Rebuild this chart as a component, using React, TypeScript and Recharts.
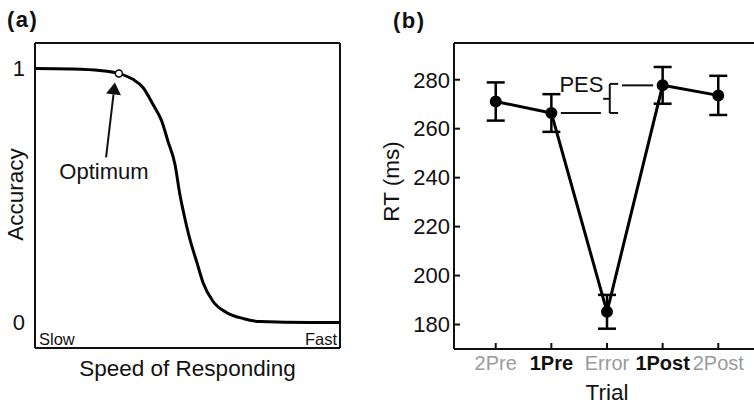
import {
  LineChart,
  ComposedChart,
  Line,
  XAxis,
  YAxis,
  ErrorBar,
  ReferenceLine,
  ReferenceDot,
  Label
} from 'recharts'

const FONT = '"Liberation Sans", Arial, Helvetica, sans-serif'
const INK = '#111'
const GREY = '#9a9a9a'

// (a) speed-accuracy curve (speed 0 = slow, 100 = fast)
const speed = [0, 11.5, 21.3, 27.5, 32.1, 35.4, 38.7, 41.6, 43.6, 45.9, 47.5, 48.5, 50.8, 53.1, 55.1, 58.4, 62.9, 68.2, 73.8, 90.2, 100]
const accuracy = [1, 0.998, 0.992, 0.98, 0.957, 0.925, 0.858, 0.791, 0.713, 0.622, 0.504, 0.445, 0.327, 0.236, 0.157, 0.083, 0.039, 0.016, 0.004, 0, 0]
const optimumIdx = 3
const speedEnds = ['Slow', 'Fast']
const accTicks = [0, 1]

// (b) RT around an error trial
const trials = ['2Pre', '1Pre', 'Error', '1Post', '2Post']
const emphasised = [false, true, false, true, false]
const rtMeans = [271.1, 266.4, 185.2, 277.7, 273.6]
const rtErrors = [7.8, 7.7, 6.9, 7.5, 8.0]
const rtTicks = [180, 200, 220, 240, 260, 280]

const curveData = speed.map((s, i) => ({ speed: s, acc: accuracy[i] }))
const rtData = trials.map((_, i) => ({ idx: i, rt: rtMeans[i], se: rtErrors[i] }))
const trialIdx = trials.map((_, i) => i)

const axisLine = { stroke: INK, strokeWidth: 2 }
const tickLine = { stroke: INK, strokeWidth: 2 }

function SpeedTick({ x, y, payload }: any) {
  const first = payload.value === 0
  return (
    <text
      x={first ? x + 4 : x - 3}
      y={y - 3}
      textAnchor={first ? 'start' : 'end'}
      fontSize={16.5}
      fontFamily={FONT}
      fill={INK}
    >
      {first ? speedEnds[0] : speedEnds[1]}
    </text>
  )
}

function TrialTick({ x, y, payload }: any) {
  const bold = emphasised[payload.value]
  return (
    <text
      x={x}
      y={y}
      dy="0.71em"
      textAnchor="middle"
      fontSize={20}
      fontFamily={FONT}
      fontWeight={bold ? 'bold' : 'normal'}
      fill={bold ? INK : GREY}
    >
      {trials[payload.value]}
    </text>
  )
}

function Arrow({ x1, y1, x2, y2 }: any) {
  const len = Math.hypot(x2 - x1, y2 - y1)
  const ux = (x2 - x1) / len
  const uy = (y2 - y1) / len
  const head = 12
  const half = 7.5
  const bx = x2 - ux * head
  const by = y2 - uy * head
  return (
    <g>
      <line x1={x1} y1={y1} x2={bx} y2={by} stroke={INK} strokeWidth={2} />
      <polygon
        points={`${x2},${y2} ${bx - uy * half},${by + ux * half} ${bx + uy * half},${by - ux * half}`}
        fill={INK}
      />
    </g>
  )
}

function rotatedTitle(text: string, dx: number, dy: number) {
  return ({ viewBox }: any) => {
    const cx = viewBox.x + dx
    const cy = viewBox.y + viewBox.height / 2 + dy
    return (
      <text
        x={cx}
        y={cy}
        transform={`rotate(-90 ${cx} ${cy})`}
        textAnchor="middle"
        dominantBaseline="central"
        fontSize={22.5}
        fontFamily={FONT}
        fill={INK}
      >
        {text}
      </text>
    )
  }
}

const textStyle = { fontSize: 22, fill: INK, fontFamily: FONT }
const titleStyle = { fontSize: 22.5, fill: INK, fontFamily: FONT }

export default function App() {
  return (
    <div
      style={{
        position: 'absolute',
        left: 0,
        top: 0,
        width: 754,
        height: 405,
        overflow: 'hidden',
        background: '#fff',
        fontFamily: FONT
      }}
    >
      <div style={{ position: 'absolute', left: 7, top: 7, fontSize: 22, fontWeight: 'bold', lineHeight: '26px', letterSpacing: 1.5, color: INK }}>
        (a)
      </div>
      <div style={{ position: 'absolute', left: 393, top: 8, fontSize: 22, fontWeight: 'bold', lineHeight: '26px', letterSpacing: 1.5, color: INK }}>
        (b)
      </div>

      <div style={{ position: 'absolute', left: 0, top: 0 }}>
        <LineChart width={360} height={405} data={curveData} margin={{ top: 13, right: 0, bottom: 0, left: 0 }}>
          <XAxis xAxisId="top" orientation="top" type="number" dataKey="speed" domain={[0, 100]} height={30} tick={false} tickLine={false} axisLine={axisLine} />
          <XAxis
            type="number"
            dataKey="speed"
            domain={[0, 100]}
            ticks={[0, 100]}
            interval={0}
            height={57}
            tickLine={false}
            tickSize={0}
            tickMargin={0}
            axisLine={axisLine}
            tick={<SpeedTick />}
          >
            <Label value="Speed of Responding" position="insideBottom" offset={29} {...titleStyle} />
          </XAxis>
          <YAxis domain={[-0.1, 1.1]} ticks={accTicks} width={35} tickLine={false} tickSize={0} tickMargin={10} axisLine={axisLine} tick={textStyle}>
            <Label content={rotatedTitle('Accuracy', 15, -1)} />
          </YAxis>
          <YAxis yAxisId="right" orientation="right" domain={[-0.1, 1.1]} ticks={accTicks} width={20} tick={false} tickSize={-7} tickLine={tickLine} axisLine={axisLine} />
          <Line dataKey="acc" type="monotone" stroke="#000" strokeWidth={3} dot={false} isAnimationActive={false} />
          <ReferenceLine segment={[{ x: 23.3, y: 0.65 }, { x: 26.2, y: 0.945 }]} shape={Arrow} />
          <ReferenceDot x={speed[optimumIdx]} y={accuracy[optimumIdx]} r={3.5} fill="#fff" stroke="#000" strokeWidth={1.5} />
          <ReferenceDot x={22.6} y={0.594} r={1} fill="none" stroke="none" label={{ value: 'Optimum', position: 'center', ...textStyle }} />
        </LineChart>
      </div>

      <div style={{ position: 'absolute', left: 370, top: 0 }}>
        <ComposedChart width={400} height={405} data={rtData} margin={{ top: 13, right: 0, bottom: 0, left: 0 }}>
          <XAxis
            xAxisId="top"
            orientation="top"
            type="number"
            dataKey="idx"
            domain={[-0.75, 4.75]}
            ticks={trialIdx}
            interval={0}
            height={30}
            tick={false}
            tickSize={-6}
            tickLine={tickLine}
            axisLine={axisLine}
          />
          <XAxis
            type="number"
            dataKey="idx"
            domain={[-0.75, 4.75]}
            ticks={trialIdx}
            interval={0}
            height={56}
            tickSize={-6}
            tickMargin={13}
            tickLine={tickLine}
            axisLine={axisLine}
            tick={<TrialTick />}
          >
            <Label value="Trial" position="insideBottom" offset={5} {...titleStyle} />
          </XAxis>
          <YAxis
            domain={[170, 295]}
            ticks={rtTicks}
            interval={0}
            width={84}
            tickSize={-6}
            tickMargin={10}
            tickLine={tickLine}
            axisLine={axisLine}
            tick={{ ...textStyle, fontSize: 22 }}
          >
            <Label content={rotatedTitle('RT (ms)', 21, -14.5)} />
          </YAxis>
          <YAxis
            yAxisId="right"
            orientation="right"
            domain={[170, 295]}
            ticks={rtTicks}
            interval={0}
            width={10}
            tick={false}
            tickSize={-6}
            tickLine={{ stroke: '#777', strokeWidth: 1.5 }}
            axisLine={axisLine}
          />
          <Line dataKey="rt" stroke="#000" strokeWidth={3} dot={{ r: 4.5, fill: '#000', stroke: '#000' }} isAnimationActive={false}>
            <ErrorBar dataKey="se" width={9} strokeWidth={2.5} stroke="#000" isAnimationActive={false} />
          </Line>
          {/* PES brace */}
          <ReferenceLine segment={[{ x: 1.17, y: rtMeans[1] }, { x: 1.89, y: rtMeans[1] }]} stroke={INK} strokeWidth={2} />
          <ReferenceLine segment={[{ x: 2.27, y: rtMeans[3] }, { x: 2.83, y: rtMeans[3] }]} stroke={INK} strokeWidth={2} />
          <ReferenceLine segment={[{ x: 2.05, y: rtMeans[1] }, { x: 2.05, y: rtMeans[3] + 0.6 }]} stroke={INK} strokeWidth={2} />
          <ReferenceLine segment={[{ x: 2.05, y: rtMeans[3] + 0.6 }, { x: 2.2, y: rtMeans[3] + 0.6 }]} stroke={INK} strokeWidth={2} />
          <ReferenceLine segment={[{ x: 2.05, y: rtMeans[1] }, { x: 2.2, y: rtMeans[1] }]} stroke={INK} strokeWidth={2} />
          <ReferenceLine segment={[{ x: 1.93, y: 272.2 }, { x: 2.05, y: 272.2 }]} stroke={INK} strokeWidth={2} />
          <ReferenceDot x={1.54} y={278} r={1} fill="none" stroke="none" label={{ value: 'PES', position: 'center', ...textStyle }} />
        </ComposedChart>
      </div>
    </div>
  )
}
